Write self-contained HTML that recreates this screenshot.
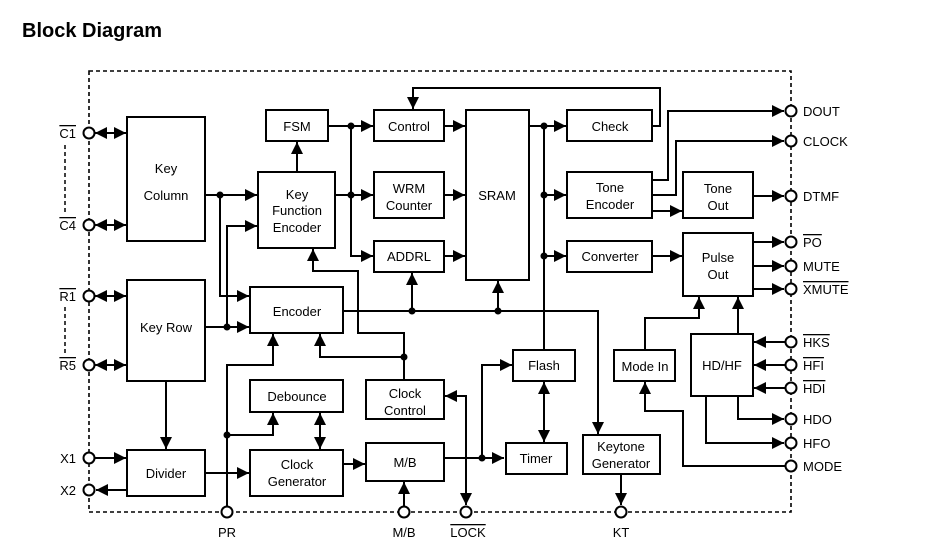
<!DOCTYPE html>
<html><head><style>
body{margin:0;background:#fff;}
svg{display:block;font-family:"Liberation Sans",Arial,sans-serif;}
text{font-size:13px;fill:#000;}
.b{fill:#fff;stroke:#000;stroke-width:2;}
.l{fill:none;stroke:#000;stroke-width:2;}
.p{fill:#fff;stroke:#000;stroke-width:2;}
.o{text-decoration:overline;}
</style></head><body>
<svg width="935" height="558" viewBox="0 0 935 558">
<defs>
<marker id="a" markerUnits="userSpaceOnUse" markerWidth="12" markerHeight="12" refX="10" refY="5" orient="auto-start-reverse" viewBox="0 0 10 10"><path d="M0,0 L10,5 L0,10z"/></marker>
</defs>
<text x="22" y="37" style="font-size:20px;font-weight:bold">Block Diagram</text>
<rect x="89" y="71" width="702" height="441" fill="none" stroke="#000" stroke-width="1.6" stroke-dasharray="4,3"/>
<line x1="65" y1="145" x2="65" y2="215" stroke="#000" stroke-width="1.5" stroke-dasharray="4,3"/>
<line x1="65" y1="307" x2="65" y2="355" stroke="#000" stroke-width="1.5" stroke-dasharray="4,3"/>

<!-- connectors -->
<g class="l">
<path d="M95,133H126" marker-start="url(#a)" marker-end="url(#a)"/>
<path d="M95,225H126" marker-start="url(#a)" marker-end="url(#a)"/>
<path d="M95,296H126" marker-start="url(#a)" marker-end="url(#a)"/>
<path d="M95,365H126" marker-start="url(#a)" marker-end="url(#a)"/>
<path d="M205,195H257" marker-end="url(#a)"/>
<path d="M220,195V296H249" marker-end="url(#a)"/>
<path d="M227,327V226H257" marker-end="url(#a)"/>
<path d="M205,327H249" marker-end="url(#a)"/>
<path d="M297,172V142" marker-end="url(#a)"/>
<path d="M328,126H373" marker-end="url(#a)"/>
<path d="M335,195H373" marker-end="url(#a)"/>
<path d="M351,126V256H373" marker-end="url(#a)"/>
<path d="M444,126H465" marker-end="url(#a)"/>
<path d="M444,195H465" marker-end="url(#a)"/>
<path d="M444,256H465" marker-end="url(#a)"/>
<path d="M652,126H660V88H413V109" marker-end="url(#a)"/>
<path d="M529,126H566" marker-end="url(#a)"/>
<path d="M544,195H566" marker-end="url(#a)"/>
<path d="M544,256H566" marker-end="url(#a)"/>
<path d="M544,126V350"/>
<path d="M652,180H668V111H784" marker-end="url(#a)"/>
<path d="M652,195H676V141H784" marker-end="url(#a)"/>
<path d="M652,211H682" marker-end="url(#a)"/>
<path d="M753,196H784" marker-end="url(#a)"/>
<path d="M652,256H682" marker-end="url(#a)"/>
<path d="M753,242H784" marker-end="url(#a)"/>
<path d="M753,266H784" marker-end="url(#a)"/>
<path d="M753,289H784" marker-end="url(#a)"/>
<path d="M404,380V333H358V271H313V249" marker-end="url(#a)"/>
<path d="M404,357H320V334" marker-end="url(#a)"/>
<path d="M343,311H598V434" marker-end="url(#a)"/>
<path d="M412,311V273" marker-end="url(#a)"/>
<path d="M498,311V281" marker-end="url(#a)"/>
<path d="M227,506V365H273V334" marker-end="url(#a)"/>
<path d="M227,435H273V413" marker-end="url(#a)"/>
<path d="M320,413V449" marker-start="url(#a)" marker-end="url(#a)"/>
<path d="M166,381V449" marker-end="url(#a)"/>
<path d="M95,458H126" marker-end="url(#a)"/>
<path d="M127,490H96" marker-end="url(#a)"/>
<path d="M205,473H249" marker-end="url(#a)"/>
<path d="M343,464H365" marker-end="url(#a)"/>
<path d="M404,506V482" marker-end="url(#a)"/>
<path d="M445,396H466V505" marker-start="url(#a)" marker-end="url(#a)"/>
<path d="M444,458H504" marker-end="url(#a)"/>
<path d="M482,458V365H512" marker-end="url(#a)"/>
<path d="M544,382V442" marker-start="url(#a)" marker-end="url(#a)"/>
<path d="M621,474V505" marker-end="url(#a)"/>
<path d="M645,350V318H699V297" marker-end="url(#a)"/>
<path d="M738,334V297" marker-end="url(#a)"/>
<path d="M785,466H683V411H645V382" marker-end="url(#a)"/>
<path d="M785,342H754" marker-end="url(#a)"/>
<path d="M785,365H754" marker-end="url(#a)"/>
<path d="M785,388H754" marker-end="url(#a)"/>
<path d="M738,396V419H784" marker-end="url(#a)"/>
<path d="M706,396V443H784" marker-end="url(#a)"/>
</g>
<g fill="#000">
<circle cx="220" cy="195" r="3.5"/><circle cx="227" cy="327" r="3.5"/>
<circle cx="351" cy="126" r="3.5"/><circle cx="351" cy="195" r="3.5"/>
<circle cx="544" cy="126" r="3.5"/><circle cx="544" cy="195" r="3.5"/><circle cx="544" cy="256" r="3.5"/>
<circle cx="404" cy="357" r="3.5"/><circle cx="412" cy="311" r="3.5"/><circle cx="498" cy="311" r="3.5"/>
<circle cx="227" cy="435" r="3.5"/><circle cx="482" cy="458" r="3.5"/>
</g>

<!-- boxes -->
<g class="b">
<rect x="127" y="117" width="78" height="124"/>
<rect x="266" y="110" width="62" height="31"/>
<rect x="258" y="172" width="77" height="76"/>
<rect x="374" y="110" width="70" height="31"/>
<rect x="374" y="172" width="70" height="46"/>
<rect x="374" y="241" width="70" height="31"/>
<rect x="466" y="110" width="63" height="170"/>
<rect x="567" y="110" width="85" height="31"/>
<rect x="567" y="172" width="85" height="46"/>
<rect x="683" y="172" width="70" height="46"/>
<rect x="567" y="241" width="85" height="31"/>
<rect x="683" y="233" width="70" height="63"/>
<rect x="127" y="280" width="78" height="101"/>
<rect x="250" y="287" width="93" height="46"/>
<rect x="250" y="380" width="93" height="32"/>
<rect x="366" y="380" width="78" height="39"/>
<rect x="127" y="450" width="78" height="46"/>
<rect x="250" y="450" width="93" height="46"/>
<rect x="366" y="443" width="78" height="38"/>
<rect x="513" y="350" width="62" height="31"/>
<rect x="506" y="443" width="61" height="31"/>
<rect x="583" y="435" width="77" height="39"/>
<rect x="614" y="350" width="61" height="31"/>
<rect x="691" y="334" width="62" height="62"/>
</g>
<g text-anchor="middle">
<text x="166" y="173">Key</text><text x="166" y="200">Column</text>
<text x="297" y="131">FSM</text>
<text x="297" y="199">Key</text><text x="297" y="215">Function</text><text x="297" y="232">Encoder</text>
<text x="409" y="131">Control</text>
<text x="409" y="193">WRM</text><text x="409" y="210">Counter</text>
<text x="409" y="261">ADDRL</text>
<text x="497" y="200">SRAM</text>
<text x="610" y="131">Check</text>
<text x="610" y="192">Tone</text><text x="610" y="209">Encoder</text>
<text x="718" y="193">Tone</text><text x="718" y="210">Out</text>
<text x="610" y="261">Converter</text>
<text x="718" y="262">Pulse</text><text x="718" y="279">Out</text>
<text x="166" y="332">Key Row</text>
<text x="297" y="316">Encoder</text>
<text x="297" y="401">Debounce</text>
<text x="405" y="398">Clock</text><text x="405" y="415">Control</text>
<text x="166" y="478">Divider</text>
<text x="297" y="469">Clock</text><text x="297" y="486">Generator</text>
<text x="405" y="467">M/B</text>
<text x="544" y="370">Flash</text>
<text x="536" y="463">Timer</text>
<text x="621" y="451">Keytone</text><text x="621" y="468">Generator</text>
<text x="645" y="371">Mode In</text>
<text x="722" y="370">HD/HF</text>
</g>

<!-- ports -->
<g class="p">
<circle cx="89" cy="133" r="5.5"/><circle cx="89" cy="225" r="5.5"/>
<circle cx="89" cy="296" r="5.5"/><circle cx="89" cy="365" r="5.5"/>
<circle cx="89" cy="458" r="5.5"/><circle cx="89" cy="490" r="5.5"/>
<circle cx="227" cy="512" r="5.5"/><circle cx="404" cy="512" r="5.5"/>
<circle cx="466" cy="512" r="5.5"/><circle cx="621" cy="512" r="5.5"/>
<circle cx="791" cy="111" r="5.5"/><circle cx="791" cy="141" r="5.5"/>
<circle cx="791" cy="196" r="5.5"/><circle cx="791" cy="242" r="5.5"/>
<circle cx="791" cy="266" r="5.5"/><circle cx="791" cy="289" r="5.5"/>
<circle cx="791" cy="342" r="5.5"/><circle cx="791" cy="365" r="5.5"/>
<circle cx="791" cy="388" r="5.5"/><circle cx="791" cy="419" r="5.5"/>
<circle cx="791" cy="443" r="5.5"/><circle cx="791" cy="466" r="5.5"/>
</g>
<g text-anchor="end">
<text x="76" y="138" class="o">C1</text><text x="76" y="230" class="o">C4</text>
<text x="76" y="301" class="o">R1</text><text x="76" y="370" class="o">R5</text>
<text x="76" y="463">X1</text><text x="76" y="495">X2</text>
</g>
<g text-anchor="middle">
<text x="227" y="537">PR</text><text x="404" y="537">M/B</text>
<text x="468" y="537" class="o">LOCK</text><text x="621" y="537">KT</text>
</g>
<g>
<text x="803" y="116">DOUT</text><text x="803" y="146">CLOCK</text>
<text x="803" y="201">DTMF</text><text x="803" y="247" class="o">PO</text>
<text x="803" y="271">MUTE</text><text x="803" y="294" class="o">XMUTE</text>
<text x="803" y="347" class="o">HKS</text><text x="803" y="370" class="o">HFI</text>
<text x="803" y="393" class="o">HDI</text><text x="803" y="424">HDO</text>
<text x="803" y="448">HFO</text><text x="803" y="471">MODE</text>
</g>
</svg>
</body></html>
